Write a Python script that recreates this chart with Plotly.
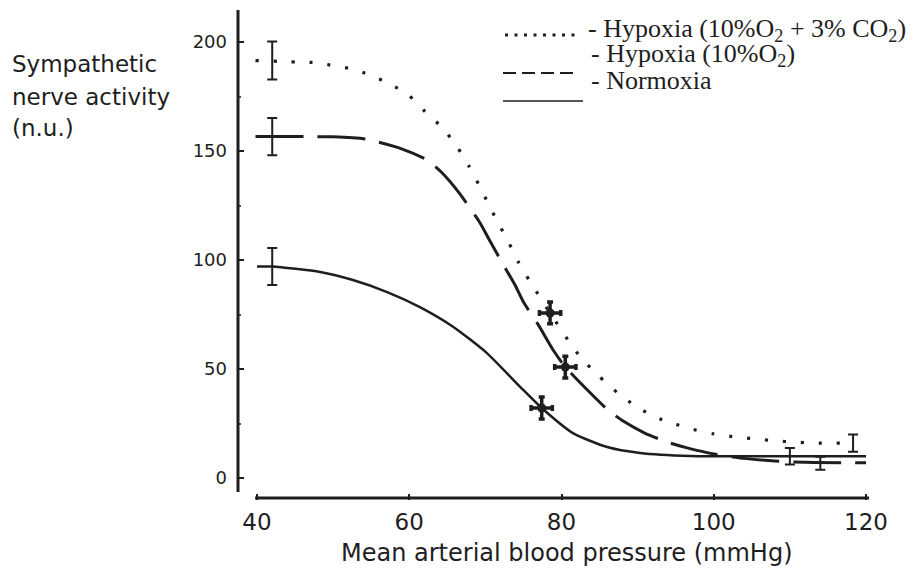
import plotly.graph_objects as go

# Baroreflex curves: sympathetic nerve activity vs mean arterial pressure
normo_x = [40, 42, 48.3, 52.6, 57.1, 61.4, 65.8, 70.2, 74.6, 77.4, 81.5, 86, 90.3, 96.9, 105, 120]
normo_y = [97, 97, 94.5, 90.8, 85.3, 78.4, 69.3, 57.3, 41.7, 32.1, 20.6, 14.2, 11.5, 10.1, 10, 10]

hypo_x = [39.8, 46.5, 50, 54.2, 56, 59, 62.3, 64.3, 66.5, 69.3, 70.4, 72, 73.9, 75, 77, 78.9, 80.5,
          83.5, 86.1, 88.1, 91, 94.3, 96.5, 100, 104, 108, 112, 120]
hypo_y = [156.6, 156.6, 156.5, 155.5, 154, 151, 146, 140, 131, 117, 110, 100, 88.5, 80.7, 70, 58.7, 50.9,
          40, 31.2, 26.1, 20.5, 16, 13.8, 11, 9, 7.8, 7.2, 7]

co2_x = [39.8, 45.2, 47.9, 50.2, 52.6, 54.8, 57.3, 59.8, 62.1, 64.4, 66.3, 67.9, 69.3, 70.6, 71.9, 73.1,
         74.4, 75.9, 78.5, 80.9, 82.6, 84.9, 87.4, 89.9, 92.3, 94.7, 97.3, 99.9, 102.9, 105.5, 108.2,
         110.5, 113, 115.6, 118.3]
co2_y = [191.5, 190.8, 190.5, 189, 187.6, 184.9, 181, 176, 168, 160.5, 151.8, 142.7, 133.5, 124.3, 115.6,
         107.8, 98.6, 89.9, 75.7, 63, 55, 46.8, 39, 32.6, 28, 25, 22.3, 20.3, 18.8, 17.9, 17, 16.5, 16, 16, 16]

# Measured points with SEM bars
normo_pts_x = [42, 110]
normo_pts_y = [97, 10]
normo_pts_err = [8.5, 3.8]

hypo_pts_x = [42, 114]
hypo_pts_y = [156.6, 6.8]
hypo_pts_err = [8.5, 3.0]

co2_pts_x = [42, 118.3]
co2_pts_y = [191.5, 16]
co2_pts_err = [8.7, 4.0]

# Operating points (mean ± SEM in both pressure and activity)
op_x = [77.4, 80.5, 78.5]
op_y = [32.1, 50.9, 75.7]
op_err_x = [1.4, 1.4, 1.4]
op_err_y = [5.0, 5.0, 5.0]

x_ticks = [40, 60, 80, 100, 120]
y_ticks = [0, 50, 100, 150, 200]

INK = "#1e1e1e"
W, H = 917, 572
ML, MR, MT, MB = 238, 42, 8, 72
PW, PH = W - ML - MR, H - MT - MB

# axis scaling (pixels per unit)
ppx = (866 - 257) / 80.0
ppy = (478 - 42) / 200.0
x_range = [40 - (257 - ML) / ppx, 120 + (W - MR - 866) / ppx]
y_range = [0 - (MT + PH - 478) / ppy, 200 + (42 - MT) / ppy]


def px(xp):
    return (xp - ML) / PW


def py(yp):
    return 1 - (yp - MT) / PH


fig = go.Figure()

fig.add_trace(go.Scatter(x=co2_x, y=co2_y, mode="lines", line=dict(color=INK, width=3.2, dash="3px,15px", shape="spline", smoothing=0.6), hoverinfo="skip"))
fig.add_trace(go.Scatter(x=hypo_x, y=hypo_y, mode="lines", line=dict(color=INK, width=3, dash="48px,14px", shape="spline", smoothing=0.6), hoverinfo="skip"))
fig.add_trace(go.Scatter(x=normo_x, y=normo_y, mode="lines", line=dict(color=INK, width=2.5, shape="spline", smoothing=0.6), hoverinfo="skip"))

for xs, ys, es in [(normo_pts_x, normo_pts_y, normo_pts_err),
                   (hypo_pts_x, hypo_pts_y, hypo_pts_err),
                   (co2_pts_x, co2_pts_y, co2_pts_err)]:
    fig.add_trace(go.Scatter(
        x=xs, y=ys, mode="markers", marker=dict(size=1, color=INK),
        error_y=dict(type="data", array=es, color=INK, thickness=2, width=5),
        hoverinfo="skip"))

fig.add_trace(go.Scatter(
    x=op_x, y=op_y, mode="markers",
    marker=dict(symbol="circle", size=9, color=INK),
    error_x=dict(type="data", array=op_err_x, color=INK, thickness=3.5, width=3),
    error_y=dict(type="data", array=op_err_y, color=INK, thickness=3.5, width=3),
    hoverinfo="skip"))

shapes = [
    # axis lines
    dict(type="line", xref="paper", yref="y", x0=0, x1=0, y0=-6.4, y1=214.7, line=dict(color=INK, width=3)),
    dict(type="line", xref="x", yref="y", x0=39.75, x1=120.4, y0=-9.17, y1=-9.17, line=dict(color=INK, width=3)),
    # legend samples
    dict(type="line", xref="paper", yref="paper", x0=px(505), x1=px(576), y0=py(35), y1=py(35),
         line=dict(color=INK, width=3, dash="3px,6.5px")),
    dict(type="line", xref="paper", yref="paper", x0=px(503), x1=px(577), y0=py(73), y1=py(73),
         line=dict(color=INK, width=2, dash="13px,6px")),
    dict(type="line", xref="paper", yref="paper", x0=px(503), x1=px(583), y0=py(101), y1=py(101),
         line=dict(color=INK, width=1.5)),
]

serif = dict(family="Liberation Serif, Times New Roman, serif", size=26, color=INK)
sans = "DejaVu Sans, Arial, sans-serif"
annotations = [
    dict(text="- Hypoxia (10%O<sub>2</sub> + 3% CO<sub>2</sub>)", x=px(586), y=py(30), xref="paper", yref="paper",
         xanchor="left", yanchor="middle", showarrow=False, font=serif),
    dict(text="- Hypoxia (10%O<sub>2</sub>)", x=px(589), y=py(55), xref="paper", yref="paper",
         xanchor="left", yanchor="middle", showarrow=False, font=serif),
    dict(text="- Normoxia", x=px(589), y=py(80), xref="paper", yref="paper",
         xanchor="left", yanchor="middle", showarrow=False, font=serif),
    dict(text="Sympathetic", x=px(10), y=py(64), xref="paper", yref="paper",
         xanchor="left", yanchor="middle", showarrow=False, font=dict(family=sans, size=23, color=INK)),
    dict(text="nerve activity", x=px(10), y=py(97), xref="paper", yref="paper",
         xanchor="left", yanchor="middle", showarrow=False, font=dict(family=sans, size=23, color=INK)),
    dict(text="(n.u.)", x=px(10), y=py(128), xref="paper", yref="paper",
         xanchor="left", yanchor="middle", showarrow=False, font=dict(family=sans, size=23, color=INK)),
    dict(text="Mean arterial blood pressure (mmHg)", x=px(567), y=py(553), xref="paper", yref="paper",
         xanchor="center", yanchor="middle", showarrow=False, font=dict(family=sans, size=24, color=INK)),
]

fig.update_layout(
    width=W, height=H,
    margin=dict(l=ML, r=MR, t=MT, b=MB, pad=0),
    paper_bgcolor="white", plot_bgcolor="white",
    showlegend=False,
    shapes=shapes,
    annotations=annotations,
    xaxis=dict(range=x_range, tickvals=x_ticks, ticktext=[str(v) for v in x_ticks],
               ticks="inside", ticklen=6, tickwidth=2, tickcolor=INK,
               showgrid=False, zeroline=False, showline=False,
               tickfont=dict(family=sans, size=23, color=INK), ticklabelstandoff=6),
    yaxis=dict(range=y_range, tickvals=y_ticks, ticktext=[str(v) for v in y_ticks],
               ticks="inside", ticklen=6, tickwidth=2, tickcolor=INK,
               minor=dict(ticks="inside", ticklen=3, tickwidth=1.5, tickcolor="#555", dtick=25, tick0=0),
               showgrid=False, zeroline=False, showline=False,
               tickfont=dict(family=sans, size=18, color=INK), ticklabelstandoff=10),
)

fig.write_html("out.html")
